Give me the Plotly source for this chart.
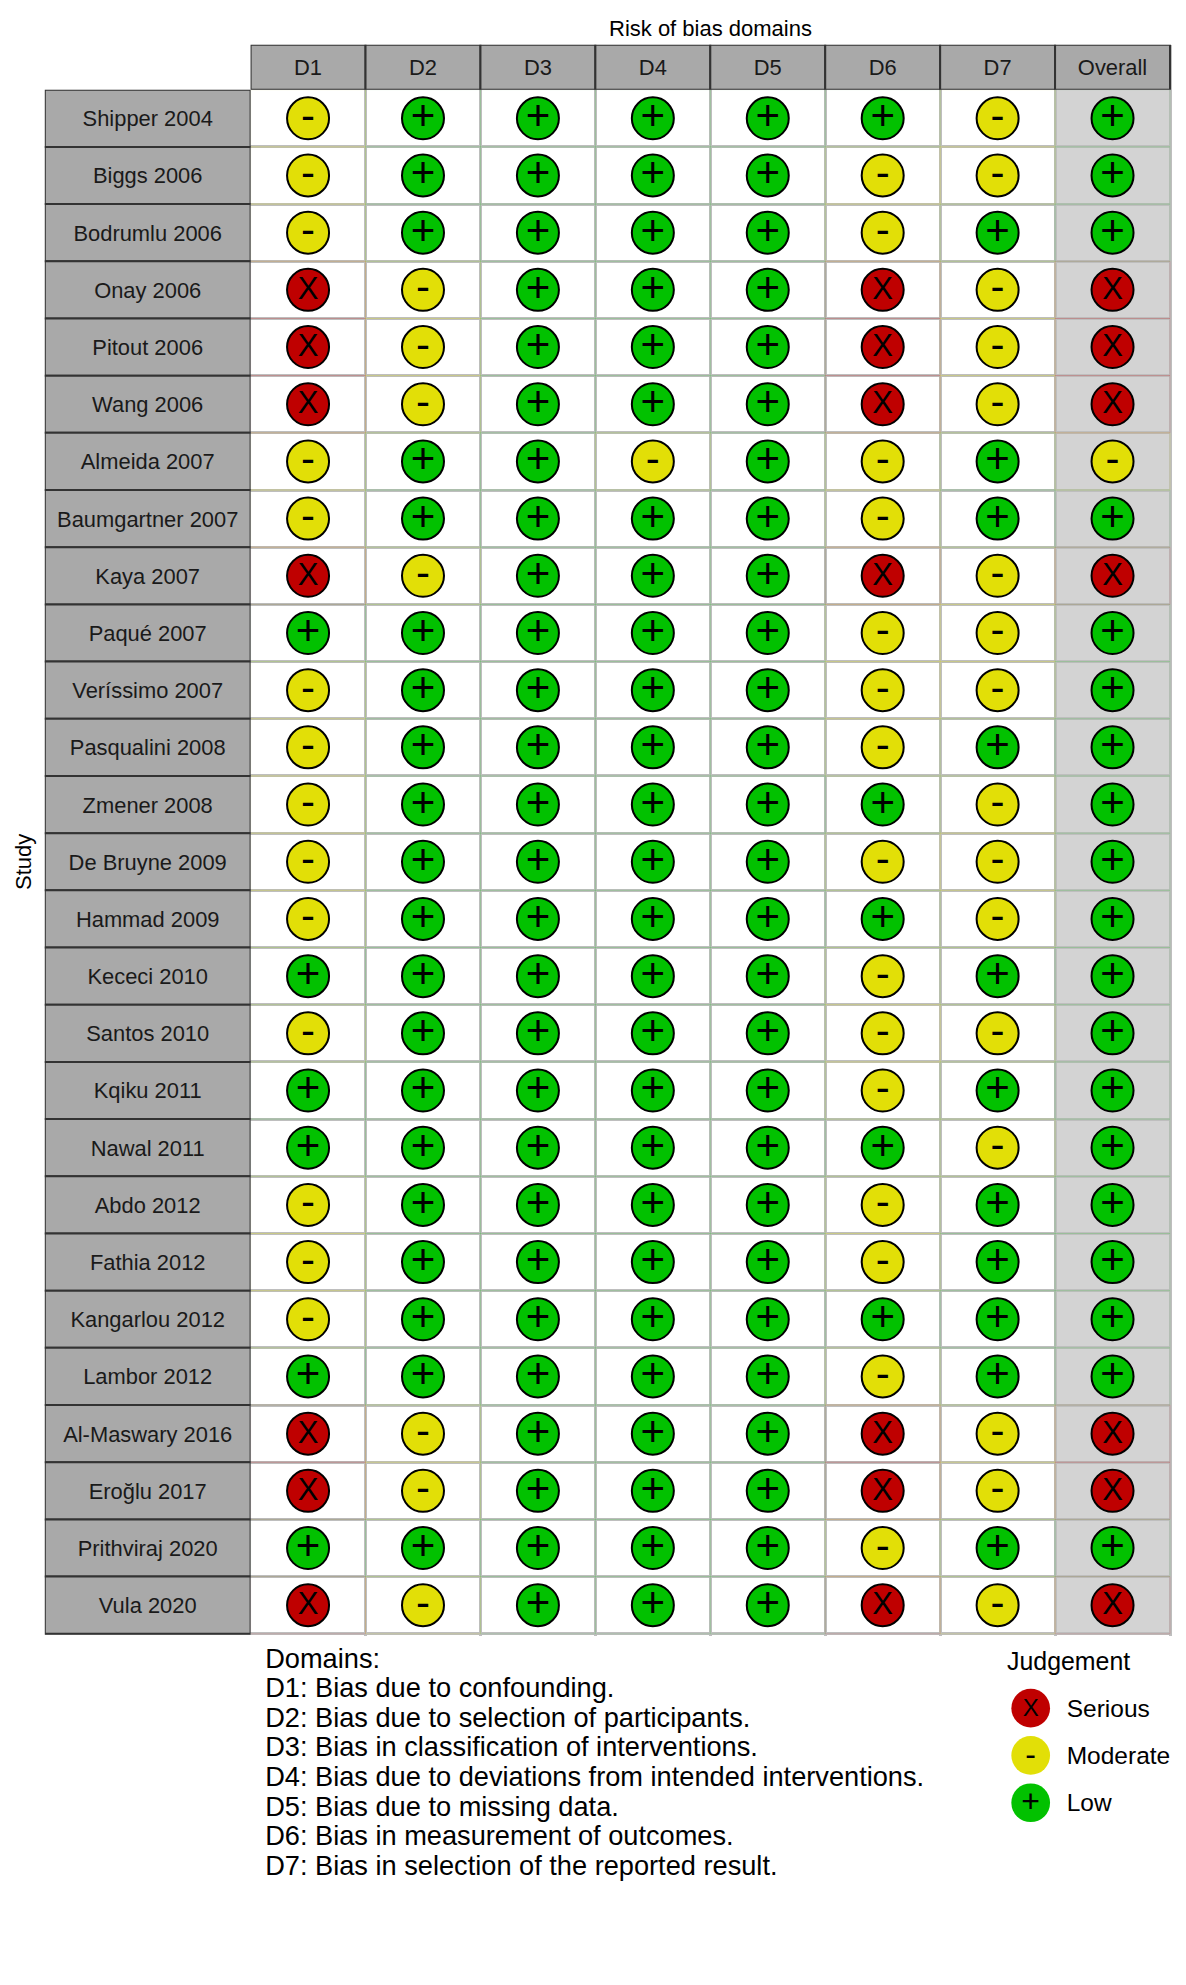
import plotly.graph_objects as go

W, H = 1186, 1985

studies = ["Shipper 2004", "Biggs 2006", "Bodrumlu 2006", "Onay 2006", "Pitout 2006", "Wang 2006", "Almeida 2007",
           "Baumgartner 2007", "Kaya 2007", "Paqué 2007", "Veríssimo 2007", "Pasqualini 2008", "Zmener 2008",
           "De Bruyne 2009", "Hammad 2009", "Kececi 2010", "Santos 2010", "Kqiku 2011", "Nawal 2011", "Abdo 2012",
           "Fathia 2012", "Kangarlou 2012", "Lambor 2012", "Al-Maswary 2016", "Eroğlu 2017", "Prithviraj 2020",
           "Vula 2020"]
domains = ["D1", "D2", "D3", "D4", "D5", "D6", "D7", "Overall"]

D1 = ["M","M","M","S","S","S","M","M","S","L","M","M","M","M","M","L","M","L","L","M","M","M","L","S","S","L","S"]
D2 = ["L","L","L","M","M","M","L","L","M","L","L","L","L","L","L","L","L","L","L","L","L","L","L","M","M","L","M"]
D3 = ["L","L","L","L","L","L","L","L","L","L","L","L","L","L","L","L","L","L","L","L","L","L","L","L","L","L","L"]
D4 = ["L","L","L","L","L","L","M","L","L","L","L","L","L","L","L","L","L","L","L","L","L","L","L","L","L","L","L"]
D5 = ["L","L","L","L","L","L","L","L","L","L","L","L","L","L","L","L","L","L","L","L","L","L","L","L","L","L","L"]
D6 = ["L","M","M","S","S","S","M","M","S","M","M","M","L","M","L","M","M","M","L","M","M","L","M","S","S","M","S"]
D7 = ["M","M","L","M","M","M","L","L","M","M","M","L","M","M","M","L","M","L","M","L","L","L","L","M","M","L","M"]
Overall = ["L","L","L","S","S","S","M","L","S","L","L","L","L","L","L","L","L","L","L","L","L","L","L","S","S","L","S"]

domain_lines = ["Domains:", "D1: Bias due to confounding.", "D2: Bias due to selection of participants.",
                "D3: Bias in classification of interventions.", "D4: Bias due to deviations from intended interventions.",
                "D5: Bias due to missing data.", "D6: Bias in measurement of outcomes.",
                "D7: Bias in selection of the reported result."]
legend_labels = ["Serious", "Moderate", "Low"]

columns = [D1, D2, D3, D4, D5, D6, D7, Overall]
codes = ["S", "M", "L"]
colors = {"S": "#BF0000", "M": "#E2DF07", "L": "#02C100"}
tints = {"S": "rgba(191,0,0,0.14)", "M": "rgba(226,223,7,0.16)", "L": "rgba(2,193,0,0.10)"}
glyphs = {"S": "X", "M": "-", "L": "+"}
glyph_size = {"S": 31, "M": 42, "L": 42}
glyph_shift = {"S": 1.5, "M": 1.0, "L": 1.5}
leg_glyph_size = {"S": 24, "M": 32, "L": 32}
FONT = "Liberation Sans"
STRIP = "#A9A9A9"
EDGE = "#333333"

# pixel geometry
L, R, T, B = 250.6, 1170.0, 89.7, 1633.8
SL = 44.8
HT = 44.8
PAD = 2.4
def dx(a, b): return [a / W, b / W]
def dy(top, bot): return [1 - bot / H, 1 - top / H]

n = len(studies)
m = len(domains)
CELL_W = (R - L) / m
CELL_H = (B - T) / n
fig = go.Figure()

# tinted cell borders
for c in codes:
    cx, cy = [], []
    for j, col in enumerate(columns):
        for i, v in enumerate(col):
            if v == c:
                cx.append(j - 0.5); cy.append(i)
    fig.add_trace(go.Bar(x=[1] * len(cx), base=cx, y=cy, orientation="h", width=1, xaxis="x", yaxis="y",
                         marker=dict(color="rgba(0,0,0,0)", line=dict(color=tints[c], width=1)),
                         showlegend=False, cliponaxis=False, hoverinfo="skip"))

# judgement points and their glyphs
for c in codes:
    cx, cy = [], []
    for j, col in enumerate(columns):
        for i, v in enumerate(col):
            if v == c:
                cx.append(j); cy.append(i)
    fig.add_trace(go.Scatter(x=cx, y=cy, mode="markers", xaxis="x", yaxis="y", showlegend=False,
                             marker=dict(size=42, color=colors[c], line=dict(color="#000000", width=2)),
                             cliponaxis=False))
    fig.add_trace(go.Scatter(x=cx, y=[v + glyph_shift[c] / CELL_H for v in cy], mode="text", xaxis="x", yaxis="y",
                             showlegend=False, text=[glyphs[c]] * len(cx), textposition="middle center",
                             textfont=dict(family=FONT, size=glyph_size[c], color="#000000"), cliponaxis=False))

# study strip
rows = list(range(n))
fig.add_trace(go.Bar(x=[1] * n, y=rows, orientation="h", width=1, xaxis="x2", yaxis="y", showlegend=False,
                     marker=dict(color=STRIP, line=dict(color=EDGE, width=2)), cliponaxis=False))
fig.add_trace(go.Scatter(x=[0.5] * n, y=[v + 2.5 / CELL_H for v in rows], text=studies, mode="text", xaxis="x2",
                         yaxis="y", showlegend=False, textposition="middle center",
                         textfont=dict(family=FONT, size=21.9, color="#1A1A1A"), cliponaxis=False))

# domain strip
cols = list(range(m))
fig.add_trace(go.Bar(x=cols, y=[1] * m, width=1, xaxis="x", yaxis="y2", showlegend=False,
                     marker=dict(color=STRIP, line=dict(color=EDGE, width=2)), cliponaxis=False))
fig.add_trace(go.Scatter(x=cols, y=[0.5 - 2.5 / (T - HT)] * m, text=domains, mode="text", xaxis="x", yaxis="y2",
                         showlegend=False, textposition="middle center",
                         textfont=dict(family=FONT, size=21.9, color="#1A1A1A"), cliponaxis=False))

# domain descriptions
fig.add_trace(go.Scatter(x=[0] * len(domain_lines), y=list(range(len(domain_lines))), text=domain_lines, mode="text",
                         xaxis="x3", yaxis="y3", showlegend=False, textposition="middle right",
                         textfont=dict(family=FONT, size=27.2, color="#000000"), cliponaxis=False))

# legend
LEG_H = 47.3
fig.add_trace(go.Scatter(x=[0.2585] * 3, y=[k + 2.5 / LEG_H for k in range(3)], text=legend_labels, mode="text",
                         xaxis="x4", yaxis="y4", showlegend=False, textposition="middle right",
                         textfont=dict(family=FONT, size=24.5, color="#000000"), cliponaxis=False))
for k, c in enumerate(codes):
    fig.add_trace(go.Scatter(x=[0], y=[k], mode="markers", xaxis="x4", yaxis="y4", showlegend=False,
                             marker=dict(size=38.7, color=colors[c]), cliponaxis=False))
    fig.add_trace(go.Scatter(x=[0], y=[k + 1.5 / LEG_H], mode="text", xaxis="x4", yaxis="y4", showlegend=False,
                             text=[glyphs[c]], textposition="middle center",
                             textfont=dict(family=FONT, size=leg_glyph_size[c], color="#000000"), cliponaxis=False))

hidden = dict(visible=False, fixedrange=True)
fig.update_layout(
    width=W, height=H, autosize=False, margin=dict(l=0, r=0, t=0, b=0),
    paper_bgcolor="white", plot_bgcolor="white", barmode="overlay", showlegend=False,
    font=dict(family=FONT, color="#000000"),
    xaxis=dict(domain=dx(L, R + PAD), range=[-0.5, m - 0.5 + PAD / CELL_W], anchor="y", showgrid=True,
               gridcolor="#BEBEBE", gridwidth=2.5, tickvals=[j - 0.5 for j in range(m + 1)],
               showticklabels=False, ticks="", zeroline=False, showline=False),
    yaxis=dict(domain=dy(T, B + PAD), range=[n - 0.5 + PAD / CELL_H, -0.5], anchor="x", showgrid=True,
               gridcolor="#BEBEBE", gridwidth=2.5, tickvals=[i - 0.5 for i in range(n + 1)],
               showticklabels=False, ticks="", zeroline=False, showline=False),
    xaxis2=dict(domain=dx(SL, L), range=[0, 1], anchor="y", **hidden),
    yaxis2=dict(domain=dy(HT, T), range=[0, 1], anchor="x", **hidden),
    xaxis3=dict(domain=dx(265.2, 1000), range=[0, 1], anchor="y3", **hidden),
    yaxis3=dict(domain=dy(1646.0, 1882.8), range=[7.5, -0.5], anchor="x3", **hidden),
    xaxis4=dict(domain=dx(1030.7, 1170), range=[0, 1], anchor="y4", **hidden),
    yaxis4=dict(domain=dy(1684.5, 1826.4), range=[2.5, -0.5], anchor="x4", **hidden),
    shapes=[dict(type="rect", xref="x", yref="y", x0=m - 1.5, x1=m - 0.5, y0=-0.5, y1=n - 0.5,
                 fillcolor="#D3D3D3", line=dict(width=0), layer="below")],
    annotations=[
        dict(text="Risk of bias domains", xref="paper", yref="paper", x=710.6 / W, y=1 - 29 / H, showarrow=False,
             xanchor="center", yanchor="middle", font=dict(family=FONT, size=22, color="#000000")),
        dict(text="Study", xref="paper", yref="paper", x=24 / W, y=1 - 862 / H, showarrow=False, textangle=-90,
             xanchor="center", yanchor="middle", font=dict(family=FONT, size=22, color="#000000")),
        dict(text="Judgement", xref="paper", yref="paper", x=1005 / W, y=1 - 1661 / H, showarrow=False,
             xanchor="left", yanchor="middle", font=dict(family=FONT, size=24.9, color="#000000")),
    ],
)

fig.write_html("out.html", config=dict(displayModeBar=False),
               post_script="document.body.style.margin='0';")
